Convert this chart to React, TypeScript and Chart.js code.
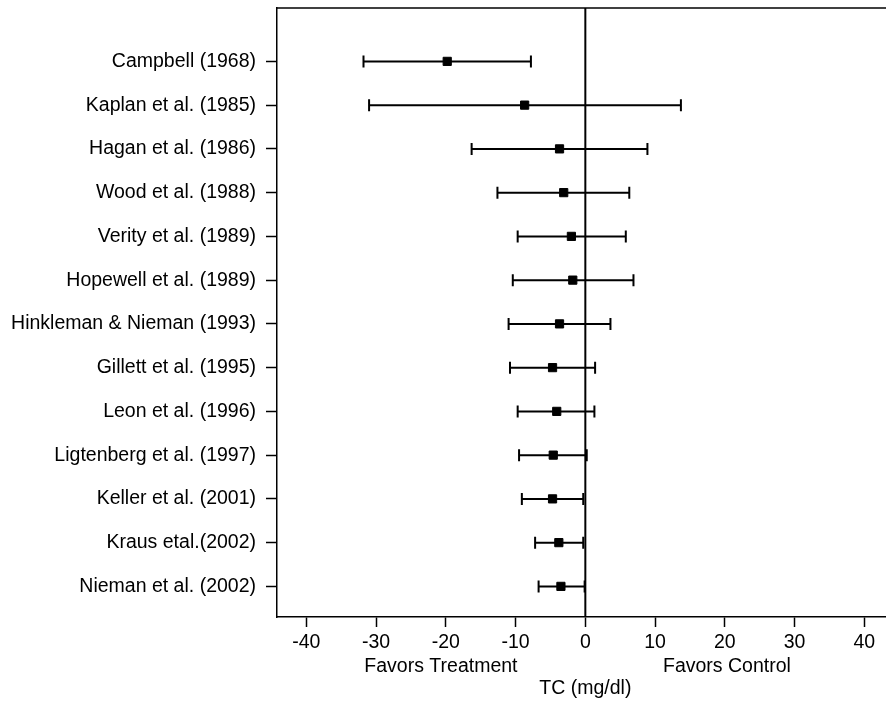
import React, { useEffect, useRef } from 'react';
import { Chart, registerables } from 'chart.js';

Chart.register(...registerables);

const studies = [
  'Campbell (1968)',
  'Kaplan et al. (1985)',
  'Hagan et al. (1986)',
  'Wood et al. (1988)',
  'Verity et al. (1989)',
  'Hopewell et al. (1989)',
  'Hinkleman & Nieman (1993)',
  'Gillett et al. (1995)',
  'Leon et al. (1996)',
  'Ligtenberg et al. (1997)',
  'Keller et al. (2001)',
  'Kraus etal.(2002)',
  'Nieman et al. (2002)',
];
const means = [-19.8, -8.7, -3.7, -3.1, -2.0, -1.8, -3.7, -4.7, -4.1, -4.6, -4.7, -3.8, -3.5];
const lower = [-31.8, -31.0, -16.3, -12.6, -9.7, -10.4, -11.0, -10.8, -9.7, -9.5, -9.1, -7.2, -6.7];
const upper = [-7.8, 13.7, 8.9, 6.3, 5.8, 6.9, 3.6, 1.4, 1.3, 0.2, -0.3, -0.3, -0.1];
const xTicks = [-40, -30, -20, -10, 0, 10, 20, 30, 40];
const sideLabels = ['Favors Treatment', 'Favors Control'];
const sideLabelAt = [-20.7, 20.3];
const axisTitle = 'TC (mg/dl)';

const FONT = 'Liberation Sans, Arial, Helvetica, sans-serif';
const FSIZE = 19.5;

export default function App() {
  const ref = useRef<HTMLCanvasElement | null>(null);

  useEffect(() => {
    if (!ref.current) return;

    const forestPlugin = {
      id: 'forest',
      beforeDatasetsDraw(chart: any) {
        const { ctx, chartArea, scales } = chart;
        const xs = scales.x;
        const ys = scales.y;
        ctx.save();
        ctx.strokeStyle = '#000';
        ctx.lineWidth = 1.5;
        ctx.beginPath();
        ctx.moveTo(chartArea.left, chartArea.top);
        ctx.lineTo(chartArea.right, chartArea.top);
        ctx.stroke();
        const x0 = xs.getPixelForValue(0);
        ctx.lineWidth = 2;
        ctx.beginPath();
        ctx.moveTo(x0, chartArea.top);
        ctx.lineTo(x0, chartArea.bottom);
        ctx.stroke();
        ctx.lineWidth = 2;
        for (let i = 0; i < studies.length; i++) {
          const y = ys.getPixelForValue(i);
          const xl = xs.getPixelForValue(lower[i]);
          const xh = xs.getPixelForValue(upper[i]);
          ctx.beginPath();
          ctx.moveTo(xl, y);
          ctx.lineTo(xh, y);
          ctx.moveTo(xl, y - 6);
          ctx.lineTo(xl, y + 6);
          ctx.moveTo(xh, y - 6);
          ctx.lineTo(xh, y + 6);
          ctx.stroke();
        }
        ctx.restore();
      },
      afterDraw(chart: any) {
        const { ctx, scales } = chart;
        const xs = scales.x;
        ctx.save();
        ctx.fillStyle = '#000';
        ctx.font = `${FSIZE}px ${FONT}`;
        ctx.textAlign = 'center';
        ctx.textBaseline = 'middle';
        sideLabels.forEach((t, i) => {
          ctx.fillText(t, xs.getPixelForValue(sideLabelAt[i]), 667);
        });
        ctx.fillText(axisTitle, xs.getPixelForValue(0), 689);
        ctx.restore();
      },
    };

    const chart = new Chart(ref.current, {
      type: 'scatter',
      data: {
        datasets: [
          {
            data: means.map((m, i) => ({ x: m, y: i })),
            pointStyle: 'rect',
            pointRadius: 5.8,
            pointBackgroundColor: '#000',
            pointBorderColor: '#000',
            pointBorderWidth: 1,
          },
        ],
      },
      options: {
        animation: false,
        responsive: false,
        layout: { autoPadding: false, padding: { top: 8, right: 0, left: 0, bottom: 0 } },
        plugins: { legend: { display: false }, tooltip: { enabled: false } },
        scales: {
          x: {
            type: 'linear',
            min: -44.2,
            max: 43.1,
            afterBuildTicks: (s: any) => {
              s.ticks = xTicks.map((v) => ({ value: v }));
            },
            afterFit: (s: any) => {
              s.height = 85;
              s.paddingLeft = 0;
              s.paddingRight = 0;
            },
            grid: {
              drawOnChartArea: false,
              drawTicks: true,
              tickLength: 10,
              tickColor: '#000',
              tickWidth: 1.5,
            },
            border: { display: true, color: '#000', width: 1.5 },
            ticks: {
              color: '#000',
              font: { family: FONT, size: FSIZE },
              padding: 4,
              maxRotation: 0,
              autoSkip: false,
              callback: (v: any) => String(v),
            },
          },
          y: {
            type: 'linear',
            reverse: true,
            min: -1.22,
            max: 12.7,
            afterBuildTicks: (s: any) => {
              s.ticks = studies.map((_, i) => ({ value: i }));
            },
            afterFit: (s: any) => {
              s.width = 277;
              s.paddingTop = 0;
              s.paddingBottom = 0;
            },
            grid: {
              drawOnChartArea: false,
              drawTicks: true,
              tickLength: 11,
              tickColor: '#000',
              tickWidth: 1.5,
            },
            border: { display: true, color: '#000', width: 1.5 },
            ticks: {
              color: '#000',
              font: { family: FONT, size: FSIZE },
              padding: 10,
              autoSkip: false,
              callback: (v: any) => studies[v] ?? '',
            },
          },
        },
      },
      plugins: [forestPlugin],
    });

    return () => chart.destroy();
  }, []);

  return (
    <div style={{ position: 'absolute', left: 0, top: 0, width: 886, height: 702, background: '#fff' }}>
      <canvas ref={ref} width={886} height={702} style={{ display: 'block' }} />
    </div>
  );
}
